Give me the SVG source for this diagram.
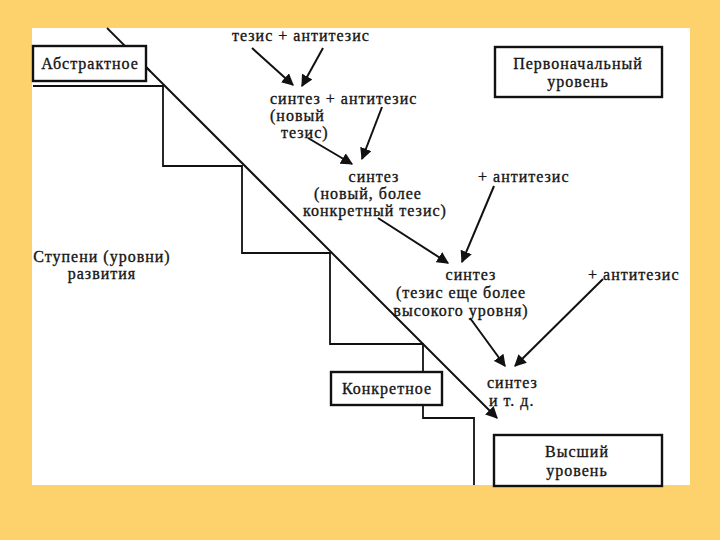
<svg xmlns="http://www.w3.org/2000/svg" width="720" height="540" viewBox="0 0 720 540">
<defs>
<style>
.t{font-family:"Liberation Serif","DejaVu Serif",serif;font-size:16px;fill:#151515;stroke:#151515;stroke-width:0.35;letter-spacing:1px}
.c{text-anchor:middle}
.box{fill:#fff;stroke:#111;stroke-width:2.4}
.ln{fill:none;stroke:#111;stroke-width:1.8}
.ar{fill:none;stroke:#111;stroke-width:2;marker-end:url(#ah)}
</style>
<marker id="ah" viewBox="0 0 10 10" refX="9" refY="5" markerWidth="6" markerHeight="6" orient="auto" markerUnits="strokeWidth">
<path d="M0,0 L10,5 L0,10 z" fill="#111"/>
</marker>
</defs>
<rect width="720" height="540" fill="#FDD26C"/>
<rect x="32" y="28" width="658" height="457" fill="#fff"/>
<g id="stairs">
<polyline class="ln" points="33,86 163,86 163,166 242,166 242,253 330,253 330,344 423,344 423,418 474,418 474,485"/>
</g>
<g id="connectors">
<line class="ln" x1="107" y1="28" x2="150" y2="71"/>
<line class="ar" x1="146" y1="67" x2="497" y2="418"/>
<line class="ar" x1="252" y1="48" x2="293" y2="85"/>
<line class="ar" x1="323" y1="48" x2="302" y2="86"/>
<line class="ar" x1="308" y1="138" x2="352" y2="164"/>
<line class="ar" x1="382" y1="107" x2="362" y2="159"/>
<line class="ar" x1="378" y1="218" x2="448" y2="263"/>
<line class="ar" x1="494" y1="186" x2="462" y2="262"/>
<line class="ar" x1="470" y1="318" x2="505" y2="366"/>
<line class="ar" x1="603" y1="279" x2="515" y2="366"/>
</g>
<g id="abstract">
<rect class="box" x="33" y="46" width="113" height="35"/>
<text class="t c" x="90" y="69">Абстрактное</text>
</g>
<g id="initial">
<rect class="box" x="495" y="47" width="167" height="50"/>
<text class="t c" x="578" y="69">Первоначальный</text>
<text class="t c" x="578" y="87">уровень</text>
</g>
<g id="concrete">
<rect class="box" x="331" y="372" width="111" height="33"/>
<text class="t c" x="387" y="394">Конкретное</text>
</g>
<g id="highest">
<rect class="box" x="494" y="435" width="168" height="51"/>
<text class="t c" x="577" y="457">Высший</text>
<text class="t c" x="577" y="476">уровень</text>
</g>
<g id="steps-label">
<text class="t c" x="102" y="262">Ступени (уровни)</text>
<text class="t c" x="102" y="279">развития</text>
</g>
<g id="s0">
<text class="t" x="232" y="41">тезис + антитезис</text>
</g>
<g id="s1">
<text class="t" x="270" y="104">синтез + антитезис</text>
<text class="t" x="270" y="121">(новый</text>
<text class="t" x="281" y="138">тезис)</text>
</g>
<g id="s2">
<text class="t c" x="374" y="182">синтез</text>
<text class="t c" x="368" y="199">(новый, более</text>
<text class="t c" x="375" y="216">конкретный тезис)</text>
<text class="t" x="478" y="182">+ антитезис</text>
</g>
<g id="s3">
<text class="t c" x="471" y="280">синтез</text>
<text class="t c" x="461" y="298">(тезис еще более</text>
<text class="t c" x="461" y="316">высокого уровня)</text>
<text class="t" x="588" y="280">+ антитезис</text>
</g>
<g id="s4">
<text class="t" x="487" y="388">синтез</text>
<text class="t" x="489" y="406">и т. д.</text>
</g>
</svg>
